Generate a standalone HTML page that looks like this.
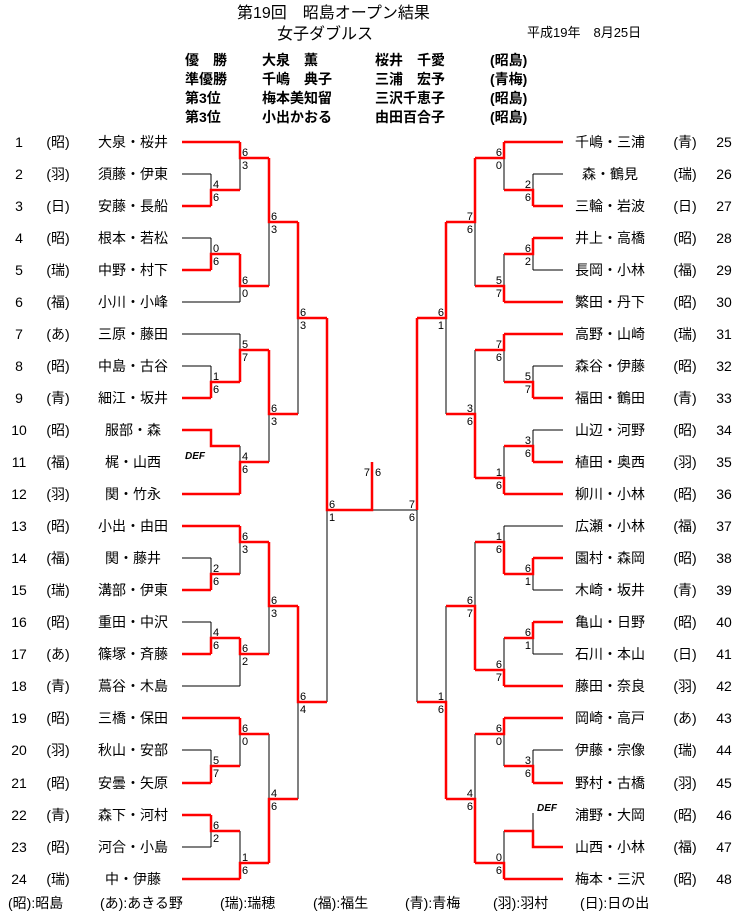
<!DOCTYPE html>
<html><head><meta charset="utf-8">
<style>
html,body{margin:0;padding:0;background:#fff;}
svg{display:block;}
text{font-family:"Liberation Sans","Noto Sans CJK JP",sans-serif;fill:#000;}
.n{font-size:14px;text-anchor:middle;}
.s{font-size:11px;}
.e{text-anchor:end;}
.h{font-size:14px;font-weight:bold;}
.b{stroke:#000;stroke-width:1;fill:none;}
.r{stroke:#f00;stroke-width:2.5;fill:none;}
</style></head><body>
<svg width="748" height="921" viewBox="0 0 748 921" xmlns="http://www.w3.org/2000/svg">
<text x="237" y="18" style="font-size:16px">第19回　昭島オープン結果</text>
<text x="277" y="39" style="font-size:16px">女子ダブルス</text>
<text x="527" y="37" style="font-size:13px">平成19年　8月25日</text>
<g class="h">
<text x="185" y="65">優　勝</text><text x="262" y="65">大泉　薫</text><text x="375" y="65">桜井　千愛</text><text x="490" y="65">(昭島)</text>
<text x="185" y="84">準優勝</text><text x="262" y="84">千嶋　典子</text><text x="375" y="84">三浦　宏予</text><text x="490" y="84">(青梅)</text>
<text x="185" y="103">第3位</text><text x="262" y="103">梅本美知留</text><text x="375" y="103">三沢千恵子</text><text x="490" y="103">(昭島)</text>
<text x="185" y="122">第3位</text><text x="262" y="122">小出かおる</text><text x="375" y="122">由田百合子</text><text x="490" y="122">(昭島)</text>
</g>

<path class="b" d="M182 174H211M182 238H211M182 302H240M182 334H240M182 366H211M182 558H211M182 622H211M182 686H240M182 750H211M182 847H211
M211 174V206M211 238V270M211 366V398M211 558V590M211 622V654M211 750V783M211 815V847
M240 142V190M240 254V302M240 334V382M240 446V494M240 526V574M240 638V686M240 718V766M240 831V879
M269 158V286M269 350V462M269 542V654M269 734V863M298 222V414M298 606V799M327 318V702M327 510H417
M563 174H533M563 270H533M563 366H533M563 430H533M563 526H504M563 590H533M563 654H533M563 750H533
M533 174V206M533 238V270M533 366V398M533 430V462M533 558V590M533 622V654M533 750V783M533 813V831
M504 142V190M504 254V302M504 334V382M504 446V494M504 526V574M504 638V686M504 718V766M504 831V879
M475 158V286M475 350V478M475 542V670M475 734V863M446 222V414M446 606V799M417 318V702"/>

<path class="r" d="M182 142H240M182 206H211M182 270H211M182 398H211M182 494H240M182 526H240M182 590H211M182 654H211M182 718H240M182 783H211M182 815H211M182 879H240
M211 206V190H240M211 270V254H240M211 398V382H240M182 430H211V446H240M211 590V574H240M211 654V638H240M211 783V766H240M211 815V831H240
M240 142V158H269M240 254V286H269M240 382V350H269M240 494V462H269M240 526V542H269M240 638V654H269M240 718V734H269M240 879V863H269
M269 158V222H298M269 350V414H298M269 542V606H298M269 863V799H298
M298 222V318H327M298 606V702H327M327 318V510H372V462
M563 142H504M563 206H533M563 238H533M563 302H504M563 334H504M563 398H533M563 462H533M563 494H504M563 558H533M563 622H533M563 686H504M563 718H504M563 783H533M563 879H504
M533 206V190H504M533 238V254H504M533 398V382H504M533 462V446H504M533 558V574H504M533 622V638H504M533 783V766H504M563 847H533V831H504
M504 142V158H475M504 302V286H475M504 334V350H475M504 494V478H475M504 574V542H475M504 686V670H475M504 718V734H475M504 879V863H475
M475 158V222H446M475 478V414H446M475 670V606H446M475 863V799H446
M446 222V318H417M446 799V702H417M417 318V510"/>

<text x="185" y="459" style="font-size:10px;font-weight:bold;font-style:italic">DEF</text>
<text x="537" y="811" style="font-size:10px;font-weight:bold;font-style:italic">DEF</text>

<g class="s">
<text x="213" y="188">4</text><text x="213" y="201">6</text>
<text x="213" y="252">0</text><text x="213" y="265">6</text>
<text x="213" y="380">1</text><text x="213" y="393">6</text>
<text x="213" y="572">2</text><text x="213" y="585">6</text>
<text x="213" y="636">4</text><text x="213" y="649">6</text>
<text x="213" y="764">5</text><text x="213" y="777">7</text>
<text x="213" y="829">6</text><text x="213" y="842">2</text>
<text x="242" y="156">6</text><text x="242" y="169">3</text>
<text x="242" y="284">6</text><text x="242" y="297">0</text>
<text x="242" y="348">5</text><text x="242" y="361">7</text>
<text x="242" y="460">4</text><text x="242" y="473">6</text>
<text x="242" y="540">6</text><text x="242" y="553">3</text>
<text x="242" y="652">6</text><text x="242" y="665">2</text>
<text x="242" y="732">6</text><text x="242" y="745">0</text>
<text x="242" y="861">1</text><text x="242" y="874">6</text>
<text x="271" y="220">6</text><text x="271" y="233">3</text>
<text x="271" y="412">6</text><text x="271" y="425">3</text>
<text x="271" y="604">6</text><text x="271" y="617">3</text>
<text x="271" y="797">4</text><text x="271" y="810">6</text>
<text x="300" y="316">6</text><text x="300" y="329">3</text>
<text x="300" y="700">6</text><text x="300" y="713">4</text>
<text x="329" y="508">6</text><text x="329" y="521">1</text>
<text x="370" y="476" class="e">7</text><text x="375" y="476">6</text>
</g>
<g class="s e">
<text x="531" y="188">2</text><text x="531" y="201">6</text>
<text x="531" y="252">6</text><text x="531" y="265">2</text>
<text x="531" y="380">5</text><text x="531" y="393">7</text>
<text x="531" y="444">3</text><text x="531" y="457">6</text>
<text x="531" y="572">6</text><text x="531" y="585">1</text>
<text x="531" y="636">6</text><text x="531" y="649">1</text>
<text x="531" y="764">3</text><text x="531" y="777">6</text>
<text x="502" y="156">6</text><text x="502" y="169">0</text>
<text x="502" y="284">5</text><text x="502" y="297">7</text>
<text x="502" y="348">7</text><text x="502" y="361">6</text>
<text x="502" y="476">1</text><text x="502" y="489">6</text>
<text x="502" y="540">1</text><text x="502" y="553">6</text>
<text x="502" y="668">6</text><text x="502" y="681">7</text>
<text x="502" y="732">6</text><text x="502" y="745">0</text>
<text x="502" y="861">0</text><text x="502" y="874">6</text>
<text x="473" y="220">7</text><text x="473" y="233">6</text>
<text x="473" y="412">3</text><text x="473" y="425">6</text>
<text x="473" y="604">6</text><text x="473" y="617">7</text>
<text x="473" y="797">4</text><text x="473" y="810">6</text>
<text x="444" y="316">6</text><text x="444" y="329">1</text>
<text x="444" y="700">1</text><text x="444" y="713">6</text>
<text x="415" y="508">7</text><text x="415" y="521">6</text>
</g>

<g class="n">
<text x="19" y="147">1</text><text x="58" y="147">(昭)</text><text x="133" y="147">大泉・桜井</text>
<text x="19" y="179">2</text><text x="58" y="179">(羽)</text><text x="133" y="179">須藤・伊東</text>
<text x="19" y="211">3</text><text x="58" y="211">(日)</text><text x="133" y="211">安藤・長船</text>
<text x="19" y="243">4</text><text x="58" y="243">(昭)</text><text x="133" y="243">根本・若松</text>
<text x="19" y="275">5</text><text x="58" y="275">(瑞)</text><text x="133" y="275">中野・村下</text>
<text x="19" y="307">6</text><text x="58" y="307">(福)</text><text x="133" y="307">小川・小峰</text>
<text x="19" y="339">7</text><text x="58" y="339">(あ)</text><text x="133" y="339">三原・藤田</text>
<text x="19" y="371">8</text><text x="58" y="371">(昭)</text><text x="133" y="371">中島・古谷</text>
<text x="19" y="403">9</text><text x="58" y="403">(青)</text><text x="133" y="403">細江・坂井</text>
<text x="19" y="435">10</text><text x="58" y="435">(昭)</text><text x="133" y="435">服部・森</text>
<text x="19" y="467">11</text><text x="58" y="467">(福)</text><text x="133" y="467">梶・山西</text>
<text x="19" y="499">12</text><text x="58" y="499">(羽)</text><text x="133" y="499">関・竹永</text>
<text x="19" y="531">13</text><text x="58" y="531">(昭)</text><text x="133" y="531">小出・由田</text>
<text x="19" y="563">14</text><text x="58" y="563">(福)</text><text x="133" y="563">関・藤井</text>
<text x="19" y="595">15</text><text x="58" y="595">(瑞)</text><text x="133" y="595">溝部・伊東</text>
<text x="19" y="627">16</text><text x="58" y="627">(昭)</text><text x="133" y="627">重田・中沢</text>
<text x="19" y="659">17</text><text x="58" y="659">(あ)</text><text x="133" y="659">篠塚・斉藤</text>
<text x="19" y="691">18</text><text x="58" y="691">(青)</text><text x="133" y="691">蔦谷・木島</text>
<text x="19" y="723">19</text><text x="58" y="723">(昭)</text><text x="133" y="723">三橋・保田</text>
<text x="19" y="755">20</text><text x="58" y="755">(羽)</text><text x="133" y="755">秋山・安部</text>
<text x="19" y="788">21</text><text x="58" y="788">(昭)</text><text x="133" y="788">安曇・矢原</text>
<text x="19" y="820">22</text><text x="58" y="820">(青)</text><text x="133" y="820">森下・河村</text>
<text x="19" y="852">23</text><text x="58" y="852">(昭)</text><text x="133" y="852">河合・小島</text>
<text x="19" y="884">24</text><text x="58" y="884">(瑞)</text><text x="133" y="884">中・伊藤</text>
</g>
<g class="n">
<text x="610" y="147">千嶋・三浦</text><text x="685" y="147">(青)</text><text x="724" y="147">25</text>
<text x="610" y="179">森・鶴見</text><text x="685" y="179">(瑞)</text><text x="724" y="179">26</text>
<text x="610" y="211">三輪・岩波</text><text x="685" y="211">(日)</text><text x="724" y="211">27</text>
<text x="610" y="243">井上・高橋</text><text x="685" y="243">(昭)</text><text x="724" y="243">28</text>
<text x="610" y="275">長岡・小林</text><text x="685" y="275">(福)</text><text x="724" y="275">29</text>
<text x="610" y="307">繁田・丹下</text><text x="685" y="307">(昭)</text><text x="724" y="307">30</text>
<text x="610" y="339">高野・山崎</text><text x="685" y="339">(瑞)</text><text x="724" y="339">31</text>
<text x="610" y="371">森谷・伊藤</text><text x="685" y="371">(昭)</text><text x="724" y="371">32</text>
<text x="610" y="403">福田・鶴田</text><text x="685" y="403">(青)</text><text x="724" y="403">33</text>
<text x="610" y="435">山辺・河野</text><text x="685" y="435">(昭)</text><text x="724" y="435">34</text>
<text x="610" y="467">植田・奥西</text><text x="685" y="467">(羽)</text><text x="724" y="467">35</text>
<text x="610" y="499">柳川・小林</text><text x="685" y="499">(昭)</text><text x="724" y="499">36</text>
<text x="610" y="531">広瀬・小林</text><text x="685" y="531">(福)</text><text x="724" y="531">37</text>
<text x="610" y="563">園村・森岡</text><text x="685" y="563">(昭)</text><text x="724" y="563">38</text>
<text x="610" y="595">木崎・坂井</text><text x="685" y="595">(青)</text><text x="724" y="595">39</text>
<text x="610" y="627">亀山・日野</text><text x="685" y="627">(昭)</text><text x="724" y="627">40</text>
<text x="610" y="659">石川・本山</text><text x="685" y="659">(日)</text><text x="724" y="659">41</text>
<text x="610" y="691">藤田・奈良</text><text x="685" y="691">(羽)</text><text x="724" y="691">42</text>
<text x="610" y="723">岡崎・高戸</text><text x="685" y="723">(あ)</text><text x="724" y="723">43</text>
<text x="610" y="755">伊藤・宗像</text><text x="685" y="755">(瑞)</text><text x="724" y="755">44</text>
<text x="610" y="788">野村・古橋</text><text x="685" y="788">(羽)</text><text x="724" y="788">45</text>
<text x="610" y="820">浦野・大岡</text><text x="685" y="820">(昭)</text><text x="724" y="820">46</text>
<text x="610" y="852">山西・小林</text><text x="685" y="852">(福)</text><text x="724" y="852">47</text>
<text x="610" y="884">梅本・三沢</text><text x="685" y="884">(昭)</text><text x="724" y="884">48</text>
</g>

<g style="font-size:14px">
<text x="8" y="908">(昭):昭島</text>
<text x="100" y="908">(あ):あきる野</text>
<text x="220" y="908">(瑞):瑞穂</text>
<text x="313" y="908">(福):福生</text>
<text x="405" y="908">(青):青梅</text>
<text x="493" y="908">(羽):羽村</text>
<text x="580" y="908">(日):日の出</text>
</g>
</svg>
</body></html>
